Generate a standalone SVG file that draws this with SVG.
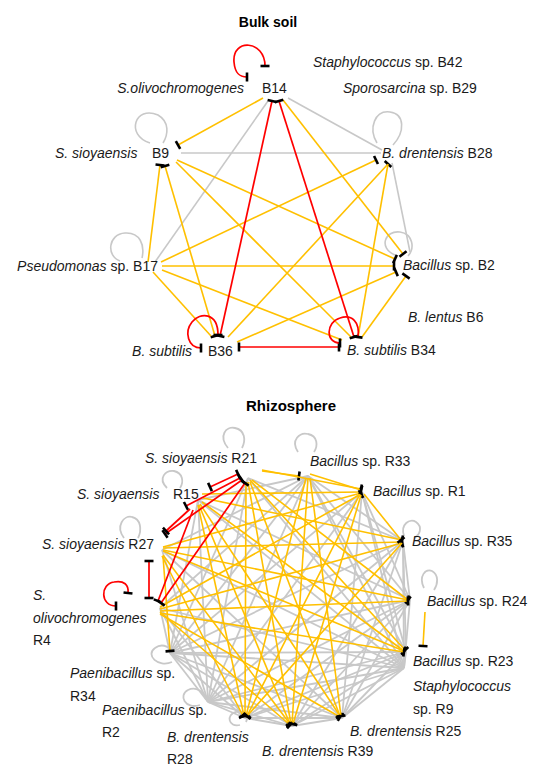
<svg xmlns="http://www.w3.org/2000/svg" width="536" height="767" viewBox="0 0 536 767">
<defs>
<marker id="tee" viewBox="-3 -6 6 12" refX="0" refY="0" markerWidth="6" markerHeight="12" markerUnits="userSpaceOnUse" orient="auto">
<path d="M0,-4.5L0,4.5" stroke="#000" stroke-width="2.6"/>
</marker>
<style>
.g{stroke:#C8C8C8;stroke-width:1.6;fill:none}
.gb{stroke:#C8C8C8;stroke-width:1.8;fill:none}
.y{stroke:#FFC000;stroke-width:1.6;fill:none}
.r{stroke:#FF0000;stroke-width:1.7;fill:none}
.te{marker-end:url(#tee)}
.ts{marker-start:url(#tee)}
text{font-family:"Liberation Sans",Arial,sans-serif;font-size:14px;fill:#1a1a1a}
.it{font-style:italic}
.title{font-weight:bold;text-anchor:middle;fill:#000}
</style>
</defs>
<rect width="536" height="767" fill="#fff"/>

<g id="edges-bulk">
<path class="g" d="M268,101L155,262"/>
<path class="g" d="M288,98L382,150"/>
<path class="g" d="M181,153L381,153"/>
<path class="g" d="M392,163L410,252"/>
<path class="g" d="M150,143C125,135 135,105 158,115C170,122 168,135 163,143"/>
<path class="g" d="M120,261C106,256 108,234 125,233C140,232 145,245 142,258"/>
<path class="g" d="M377,143C368,128 375,110 390,112C405,114 405,132 393,145"/>
<path class="g" d="M395,255C378,248 385,230 400,232C413,234 415,248 408,256"/>
<path class="y te" d="M263,98L178,145"/>
<path class="y te" d="M283,100L403,254"/>
<path class="y ts" d="M160,165L148,262"/>
<path class="y ts te" d="M165,166L215,336"/>
<path class="y" d="M176,162L351,337"/>
<path class="y te" d="M177,160L395,259"/>
<path class="y te" d="M161,262L376,160"/>
<path class="y te" d="M162,266L394,266"/>
<path class="y" d="M162,270L342,340"/>
<path class="y" d="M153,272L211,336"/>
<path class="y te" d="M228,337L388,164"/>
<path class="y te" d="M237,342L396,272"/>
<path class="y" d="M358,337L388,164"/>
<path class="y te" d="M362,337L406,276"/>
<path class="r ts te" d="M272,101L220,336"/>
<path class="r ts te" d="M279,101L354,337"/>
<path class="r ts te" d="M239,347L339,347"/>
<path class="r ts te" d="M265,66C265,40 232,38 234,62C235,74 240,77 247,77"/>
<path class="r ts te" d="M201,348C188,348 184,332 192,322C200,312 218,312 218,335"/>
<path class="r ts te" d="M340,343C325,343 326,322 340,318C352,314 360,322 358,337"/>
</g>

<g id="edges-rhizo">
<g class="gb">
<path d="M248,478L403,541"/><path d="M248,478L404,668"/><path d="M248,478L208,702"/><path d="M248,478L170,653"/>
<path d="M308,476L403,541"/><path d="M308,476L410,600"/><path d="M308,476L406,652"/><path d="M308,476L404,668"/><path d="M308,476L208,702"/><path d="M308,476L170,653"/><path d="M308,476L160,608"/><path d="M308,476L162,550"/><path d="M308,476L198,500"/>
<path d="M362,492L410,600"/><path d="M362,492L406,652"/><path d="M362,492L404,668"/><path d="M362,492L342,718"/><path d="M362,492L208,702"/><path d="M362,492L170,653"/>
<path d="M403,541L410,600"/><path d="M403,541L406,652"/><path d="M403,541L404,668"/><path d="M403,541L342,718"/><path d="M403,541L292,726"/><path d="M403,541L208,702"/><path d="M403,541L170,653"/>
<path d="M410,600L404,668"/><path d="M410,600L342,718"/><path d="M410,600L292,726"/><path d="M410,600L245,718"/><path d="M410,600L208,702"/><path d="M410,600L170,653"/><path d="M410,600L198,500"/>
<path d="M406,652L404,668"/><path d="M406,652L342,718"/><path d="M406,652L292,726"/><path d="M406,652L245,718"/><path d="M406,652L208,702"/><path d="M406,652L170,653"/>
<path d="M404,668L342,718"/><path d="M404,668L292,726"/><path d="M404,668L245,718"/><path d="M404,668L208,702"/><path d="M404,668L170,653"/><path d="M404,668L160,608"/><path d="M404,668L162,550"/><path d="M404,668L198,500"/>
<path d="M342,718L292,726"/><path d="M342,718L245,718"/><path d="M342,718L208,702"/><path d="M342,718L170,653"/><path d="M342,718L162,550"/>
<path d="M292,726L245,718"/><path d="M292,726L208,702"/><path d="M292,726L170,653"/>
<path d="M245,718L208,702"/><path d="M245,718L170,653"/><path d="M245,718L160,608"/>
<path d="M208,702L170,653"/><path d="M208,702L160,608"/><path d="M208,702L162,550"/><path d="M208,702L198,500"/>
<path d="M170,653L160,608"/><path d="M170,653L198,500"/>
<path d="M228,448C218,436 226,426 235,428C245,430 246,440 242,448"/>
<path d="M167,488C157,478 166,470 174,471C183,473 184,482 180,488"/>
<path d="M124,538C115,526 124,515 132,517C141,519 142,530 138,538"/>
<path d="M298,452C290,440 300,432 308,434C318,436 318,446 314,452"/>
<path d="M404,536C400,524 410,518 416,522C423,527 420,535 414,538"/>
<path d="M424,588C418,576 426,568 432,571C439,575 438,584 434,590"/>
<path d="M172,662C158,668 145,655 155,648C163,642 172,648 173,655"/>
<path d="M200,705C185,710 178,695 188,690C196,686 205,692 206,700"/>
<path d="M240,725C228,728 226,714 236,712C244,710 249,716 246,722"/>
</g>
<g class="y te">
<path d="M262,471L299,476"/>
<path d="M262,470L361,489"/>
<path d="M250,480L405,650"/>
<path d="M250,482L340,716"/>
<path d="M248,482L291,724"/>
<path d="M246,482L245,716"/>
<path d="M252,480L408,600"/>
<path d="M202,494L361,492"/>
<path d="M202,502L404,651"/>
<path d="M200,504L340,716"/>
<path d="M199,505L290,724"/>
<path d="M198,505L244,716"/>
<path d="M203,498L402,540"/>
<path d="M163,547L361,493"/>
<path d="M163,548L402,542"/>
<path d="M163,551L404,651"/>
<path d="M163,556L170,651"/>
<path d="M163,555L290,724"/>
<path d="M162,556L243,716"/>
<path d="M163,550L408,600"/>
<path d="M160,607L361,494"/>
<path d="M160,609L402,543"/>
<path d="M160,611L408,601"/>
<path d="M160,613L404,652"/>
<path d="M160,614L340,717"/>
<path d="M160,612L290,725"/>
<path d="M310,474L361,490"/>
<path d="M306,478L246,716"/>
<path d="M308,478L292,724"/>
<path d="M310,478L341,716"/>
<path d="M364,494L401,540"/>
<path d="M360,494L247,716"/>
<path d="M361,495L293,724"/>
<path d="M425,612L423,646"/>
<path d="M402,543L247,716"/>
</g>
<path class="r ts te" d="M238,474L210,487"/>
<path class="r ts te" d="M186,506L240,478"/>
<path class="r ts te" d="M242,480L165,534"/>
<path class="r te" d="M190,509L166,531"/>
<path class="r te" d="M193,510L158,601"/>
<path class="r ts te" d="M245,483L161,603"/>
<path class="r ts te" d="M149,561L149,598"/>
<path class="r ts te" d="M116,606C100,606 100,584 114,582C124,580 129,585 128,593"/>
</g>

<text id="title-bulk" class="title" x="268" y="27">Bulk soil</text>
<g id="B14"><text class="it" x="244" y="93" text-anchor="end">S.olivochromogenes</text><text x="262" y="93">B14</text></g>
<g id="B42"><text x="313" y="67"><tspan class="it">Staphylococcus</tspan> sp. B42</text></g>
<g id="B29"><text x="343" y="93"><tspan class="it">Sporosarcina</tspan> sp. B29</text></g>
<g id="B9"><text class="it" x="55" y="158">S. sioyaensis</text><text x="152" y="158">B9</text></g>
<g id="B28"><text x="382" y="158"><tspan class="it">B. drentensis</tspan> B28</text></g>
<g id="B17"><text x="158" y="271" text-anchor="end"><tspan class="it">Pseudomonas</tspan> sp. B17</text></g>
<g id="B2"><text x="403" y="270"><tspan class="it">Bacillus</tspan> sp. B2</text></g>
<g id="B6"><text x="408" y="322"><tspan class="it">B. lentus</tspan> B6</text></g>
<g id="B36"><text class="it" x="192" y="356" text-anchor="end">B. subtilis</text><text x="208" y="356">B36</text></g>
<g id="B34"><text x="347" y="355"><tspan class="it">B. subtilis</tspan> B34</text></g>

<text id="title-rhizo" class="title" x="291" y="411" style="font-size:15px">Rhizosphere</text>
<g id="R21"><text x="145" y="463"><tspan class="it">S. sioyaensis</tspan> R21</text></g>
<g id="R33"><text x="310" y="466"><tspan class="it">Bacillus</tspan> sp. R33</text></g>
<g id="R15"><text class="it" x="77" y="499">S. sioyaensis</text><text x="173" y="499">R15</text></g>
<g id="R1"><text x="373" y="496"><tspan class="it">Bacillus</tspan> sp. R1</text></g>
<g id="R27"><text x="42" y="549"><tspan class="it">S. sioyaensis</tspan> R27</text></g>
<g id="R35"><text x="412" y="546"><tspan class="it">Bacillus</tspan> sp. R35</text></g>
<g id="R4"><text class="it" x="33" y="600">S.</text><text class="it" x="33" y="623">olivochromogenes</text><text x="33" y="645">R4</text></g>
<g id="R24"><text x="427" y="606"><tspan class="it">Bacillus</tspan> sp. R24</text></g>
<g id="R23"><text x="413" y="666"><tspan class="it">Bacillus</tspan> sp. R23</text></g>
<g id="R9"><text class="it" x="413" y="691">Staphylococcus</text><text x="413" y="714">sp. R9</text></g>
<g id="R34"><text x="70" y="678"><tspan class="it">Paenibacillus</tspan> sp.</text><text x="70" y="701">R34</text></g>
<g id="R2"><text x="102" y="715"><tspan class="it">Paenibacillus</tspan> sp.</text><text x="102" y="737">R2</text></g>
<g id="R25"><text x="350" y="736"><tspan class="it">B. drentensis</tspan> R25</text></g>
<g id="R28"><text class="it" x="167" y="742">B. drentensis</text><text x="167" y="764">R28</text></g>
<g id="R39"><text x="262" y="756"><tspan class="it">B. drentensis</tspan> R39</text></g>
</svg>
